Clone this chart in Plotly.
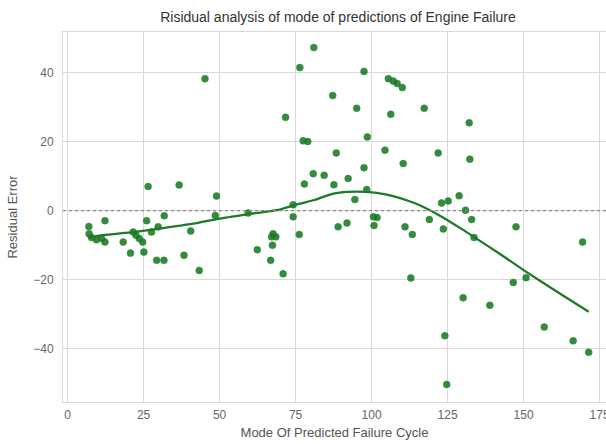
import plotly.graph_objects as go

# Predicted failure cycle (mode) and residual errors
pred_cycle = [45.2, 81.0, 76.4, 87.2, 71.7, 77.5, 79.0, 88.4, 26.5, 36.7,
              49.0, 80.8, 84.4, 77.9, 87.6, 74.2, 74.2, 48.6, 31.8, 26.0,
              12.3, 7.0, 7.1, 7.9, 9.5, 11.2, 12.3, 18.3, 20.7, 21.6,
              22.5, 23.6, 24.7, 25.1, 27.6, 29.8, 29.3, 31.7, 38.3, 40.5,
              43.3, 59.4, 62.4, 66.8, 67.4, 67.1, 67.6, 68.5, 70.9, 76.2,
              89.0, 97.5, 105.5, 107.1, 108.4, 110.1, 95.1, 106.3, 117.3, 132.1,
              98.6, 104.4, 121.9, 110.4, 132.3, 97.5, 92.3, 98.4, 94.5, 128.8,
              123.0, 125.2, 130.9, 132.9, 119.0, 123.6, 111.0, 100.6, 101.8, 100.8,
              91.9, 113.4, 112.9, 133.7, 147.5, 130.1, 138.9, 146.6, 150.8, 124.1,
              124.7, 156.8, 166.3, 171.4, 169.4]
residual = [38.2, 47.2, 41.4, 33.3, 27.0, 20.2, 20.0, 16.7, 7.0, 7.4,
            4.2, 10.7, 10.2, 7.7, 7.5, 1.7, -1.8, -1.4, -1.5, -2.9,
            -2.9, -4.6, -6.7, -7.8, -8.4, -8.1, -9.1, -9.1, -12.3, -6.2,
            -7.1, -8.1, -9.1, -12.0, -6.2, -4.7, -14.4, -14.4, -12.9, -5.9,
            -17.3, -0.7, -11.3, -14.4, -10.0, -7.6, -6.7, -7.6, -18.3, -6.9,
            -4.7, 40.3, 38.2, 37.5, 36.8, 35.6, 29.6, 27.9, 29.6, 25.4,
            21.3, 17.5, 16.7, 13.6, 14.9, 12.4, 9.3, 6.1, 3.2, 4.3,
            2.2, 2.8, 0.1, -2.6, -2.6, -5.3, -4.7, -1.8, -2.0, -4.3,
            -3.6, -6.9, -19.5, -7.8, -4.7, -25.2, -27.4, -20.8, -19.4, -36.2,
            -50.3, -33.7, -37.7, -41.0, -9.1]

# Lowess trend
trend_x = [6.7, 11.7, 21.6, 30.4, 41.3, 50.1, 58.9, 69.8, 76.4, 80.8,
           87.4, 92.0, 98.4, 105.0, 111.5, 116.0, 120.3, 125.0, 130.0, 135.0,
           142.0, 151.0, 161.0, 171.4]
trend_y = [-7.8, -7.1, -6.2, -5.2, -3.8, -2.3, -1.1, 0.3, 2.0, 3.0,
           4.9, 5.4, 5.4, 4.6, 3.0, 1.5, -0.4, -2.8, -5.5, -8.4,
           -12.4, -17.8, -23.5, -29.3]

x_ticks = [0, 25, 50, 75, 100, 125, 150, 175]
y_ticks = [-40, -20, 0, 20, 40]

title_text = "Risidual analysis of mode of predictions of Engine Failure"
x_title = "Mode Of Predicted Failure Cycle"
y_title = "Residual Error"

FONT = "Liberation Sans, Arial, sans-serif"
grid = "#d9d9d9"

fig = go.Figure()
fig.add_trace(go.Scatter(
    x=pred_cycle, y=residual, mode="markers",
    marker=dict(size=7, color="rgba(20,115,30,0.85)",
                line=dict(width=0.8, color="rgba(40,150,50,0.6)")),
    showlegend=False, hoverinfo="x+y"))
fig.add_trace(go.Scatter(
    x=trend_x, y=trend_y, mode="lines",
    line=dict(color="#1e7a24", width=2.3, shape="spline", smoothing=0.5),
    showlegend=False))

fig.add_shape(type="line", xref="paper", x0=0, x1=1, yref="y", y0=0, y1=0,
              line=dict(color="#888888", width=1.3, dash="dot"), layer="above")

fig.update_layout(
    width=606, height=444,
    margin=dict(l=63, r=0, t=32, b=42, autoexpand=False),
    paper_bgcolor="white", plot_bgcolor="white",
    font=dict(family=FONT, color="#444444", size=12),
    title=dict(text=title_text, x=338 / 606, xref="container", xanchor="center",
               y=1 - 17 / 444, yref="container", yanchor="middle",
               font=dict(size=14, color="#333333", family=FONT)),
    xaxis=dict(range=[-1.5, 177.1], tickvals=x_ticks, showgrid=True,
               gridcolor=grid, gridwidth=1, zeroline=False,
               showline=True, linecolor=grid, mirror=True,
               ticks="outside", ticklen=2, tickcolor="rgba(0,0,0,0)",
               ticklabeloverflow="allow", automargin=False,
               tickfont=dict(size=12, color="#666666"),
               title=dict(text=x_title, standoff=6,
                          font=dict(size=13, color="#555555"))),
    yaxis=dict(range=[-55.4, 51.7], tickvals=y_ticks, showgrid=True,
               gridcolor=grid, gridwidth=1, zeroline=False,
               showline=True, linecolor=grid, mirror=True,
               ticks="outside", ticklen=6, tickcolor="rgba(0,0,0,0)",
               automargin=False,
               tickfont=dict(size=12, color="#666666"),
               title=dict(text=y_title, standoff=12,
                          font=dict(size=13, color="#555555"))),
)

fig.write_html("out.html")
